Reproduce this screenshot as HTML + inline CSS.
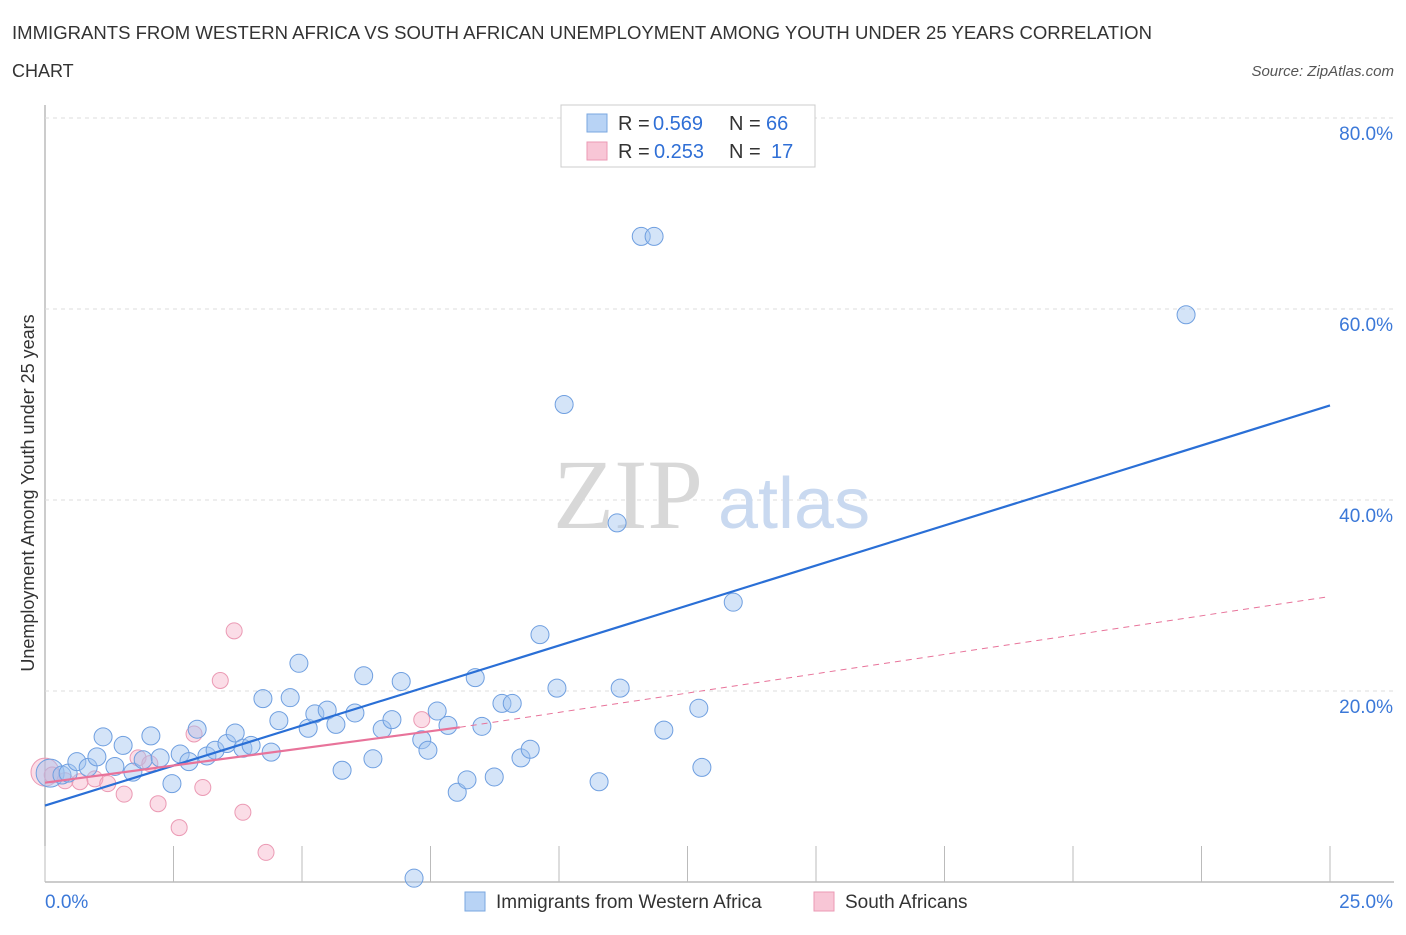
<!DOCTYPE html>
<html><head><meta charset="utf-8">
<style>
body{margin:0;background:#fff;font-family:"Liberation Sans",sans-serif;}
svg text{font-family:"Liberation Sans",sans-serif;}
</style></head>
<body>
<svg id="chart" width="1406" height="930" xmlns="http://www.w3.org/2000/svg">
<text x="12" y="39" font-size="18" fill="#333" textLength="1140" lengthAdjust="spacingAndGlyphs">IMMIGRANTS FROM WESTERN AFRICA VS SOUTH AFRICAN UNEMPLOYMENT AMONG YOUTH UNDER 25 YEARS CORRELATION</text>
<text x="12" y="77" font-size="18" fill="#333">CHART</text>
<text x="1394" y="76" font-size="15" fill="#555" font-style="italic" text-anchor="end">Source: ZipAtlas.com</text>
<g id="grid"></g>
<text x="553" y="528" font-size="100" fill="#d8d8d8" font-family="Liberation Serif" style="font-family:'Liberation Serif',serif">ZIP</text>
<text x="718" y="528" font-size="72" fill="#c9d9f0">atlas</text>
<text transform="translate(34,493) rotate(-90)" font-size="18" fill="#333" text-anchor="middle">Unemployment Among Youth under 25 years</text>
<g id="marks"></g>
<g>
<rect x="561" y="105" width="254" height="62" fill="#fff" stroke="#ccc"/>
<rect x="587" y="114" width="20" height="18" fill="#b8d3f5" stroke="#7aa7e0"/>
<rect x="587" y="142" width="20" height="18" fill="#f8c6d6" stroke="#eb9ab4"/>
<text y="130" font-size="20" fill="#333"><tspan x="618">R =</tspan><tspan x="653" fill="#2f6fd6">0.569</tspan><tspan x="729">N =</tspan><tspan x="766" fill="#2f6fd6">66</tspan></text>
<text y="158" font-size="20" fill="#333"><tspan x="618">R =</tspan><tspan x="654" fill="#2f6fd6">0.253</tspan><tspan x="729">N =</tspan><tspan x="771" fill="#2f6fd6">17</tspan></text>
</g>
<g>
<rect x="465" y="892" width="20" height="19" fill="#b8d3f5" stroke="#7aa7e0"/>
<text x="496" y="908" font-size="19" fill="#333">Immigrants from Western Africa</text>
<rect x="814" y="892" width="20" height="19" fill="#f8c6d6" stroke="#eb9ab4"/>
<text x="845" y="908" font-size="19" fill="#333">South Africans</text>
</g>
</svg>
<script>
const xTickLabels=["0.0%","25.0%"];
const yTicks=[20,40,60,80];
const blueX=[0.1,0.33,0.45,0.62,0.84,1.01,1.13,1.36,1.52,1.71,1.91,2.06,2.24,2.47,2.63,2.8,2.96,3.15,3.31,3.54,3.7,3.85,4.01,4.24,4.4,4.55,4.77,4.94,5.12,5.25,5.49,5.66,5.78,6.03,6.2,6.38,6.56,6.75,6.93,7.18,7.33,7.45,7.63,7.84,8.02,8.21,8.37,8.5,8.74,8.89,9.09,9.26,9.44,9.63,9.96,10.1,10.78,11.13,11.19,11.6,11.85,12.04,12.72,12.78,13.39,22.2];
const blueY=[11.4,11.2,11.4,12.6,12.0,13.1,15.2,12.1,14.3,11.5,12.8,15.3,13.0,10.3,13.4,12.6,16.0,13.2,13.8,14.5,15.6,14.0,14.3,19.2,13.6,16.9,19.3,22.9,16.1,17.6,18.0,16.5,11.7,17.7,21.6,12.9,16.0,17.0,21.0,0.4,14.9,13.8,17.9,16.4,9.4,10.7,21.4,16.3,11.0,18.7,18.7,13.0,13.9,25.9,20.3,50.0,10.5,37.6,20.3,67.6,67.6,15.9,18.2,12.0,29.3,59.4];
const blueSize=[14,9,9,9,9,9,9,9,9,9,9,9,9,9,9,9,9,9,9,9,9,9,9,9,9,9,9,9,9,9,9,9,9,9,9,9,9,9,9,9,9,9,9,9,9,9,9,9,9,9,9,9,9,9,9,9,9,9,9,9,9,9,9,9,9,9];
const pinkX=[0.0,0.14,0.39,0.68,0.97,1.22,1.54,1.81,2.04,2.2,2.61,2.9,3.07,3.41,3.68,3.85,4.3,7.33];
const pinkY=[11.5,11.2,10.6,10.5,10.8,10.3,9.2,13.0,12.4,8.2,5.7,15.5,9.9,21.1,26.3,7.3,3.1,17.0];
const blueTrend=[[0,8.0],[25,49.9]];
const pinkTrend=[[0,10.4],[8.07,16.2],[25,29.9]];
const X=v=>45+v*51.4, Y=v=>882-v*9.55;
const NS="http://www.w3.org/2000/svg";
const grid=document.getElementById('grid'), marks=document.getElementById('marks');
function mk(p,tag,a){const e=document.createElementNS(NS,tag);for(const k in a)e.setAttribute(k,a[k]);p.appendChild(e);return e;}
let ax=mk(grid,'line',{x1:45,y1:105,x2:45,y2:882,stroke:'#999'});


let bx=mk(grid,'line',{x1:45,y1:882,x2:1394,y2:882,stroke:'#999'});


for(const t of yTicks){
 let g=mk(grid,'line',{x1:45,y1:Y(t),x2:1394,y2:Y(t),stroke:'#ddd','stroke-dasharray':'4,4'});
 
 
 let l=mk(grid,'text',{x:1393,y:Y(t)+22,'font-size':19,fill:'#3b78d8','text-anchor':'end'});l.textContent=t.toFixed(1)+'%';
 
 
}
for(let i=0;i<=10;i++){
 let t=mk(grid,'line',{x1:X(i*2.5),y1:846,x2:X(i*2.5),y2:882,stroke:'#bbb'});
 
 
}
let xl0=mk(grid,'text',{x:45,y:908,'font-size':19,fill:'#3b78d8'});xl0.textContent=xTickLabels[0];


let xl1=mk(grid,'text',{x:1393,y:908,'font-size':19,fill:'#3b78d8','text-anchor':'end'});xl1.textContent=xTickLabels[1];


for(let i=0;i<pinkX.length;i++){
 let c=mk(marks,'circle',{cx:X(pinkX[i]),cy:Y(pinkY[i]),r:i==0?14:8,fill:'rgba(245,170,195,0.4)',stroke:'#eb9ab4','stroke-width':1});
 
 
}
for(let i=0;i<blueX.length;i++){
 let c=mk(marks,'circle',{cx:X(blueX[i]),cy:Y(blueY[i]),r:blueSize[i],fill:'rgba(160,195,240,0.45)',stroke:'#6f9fe0','stroke-width':1});
 
 
}
let bl=mk(marks,'line',{x1:X(blueTrend[0][0]),y1:Y(blueTrend[0][1]),x2:X(blueTrend[1][0]),y2:Y(blueTrend[1][1]),stroke:'#2a6fd6','stroke-width':2.2});


let pl=mk(marks,'line',{x1:X(pinkTrend[0][0]),y1:Y(pinkTrend[0][1]),x2:X(pinkTrend[1][0]),y2:Y(pinkTrend[1][1]),stroke:'#e8739a','stroke-width':2.2});


let pd=mk(marks,'line',{x1:X(pinkTrend[1][0]),y1:Y(pinkTrend[1][1]),x2:X(pinkTrend[2][0]),y2:Y(pinkTrend[2][1]),stroke:'#e8739a','stroke-width':1,'stroke-dasharray':'6,5'});


</script>
</body></html>
